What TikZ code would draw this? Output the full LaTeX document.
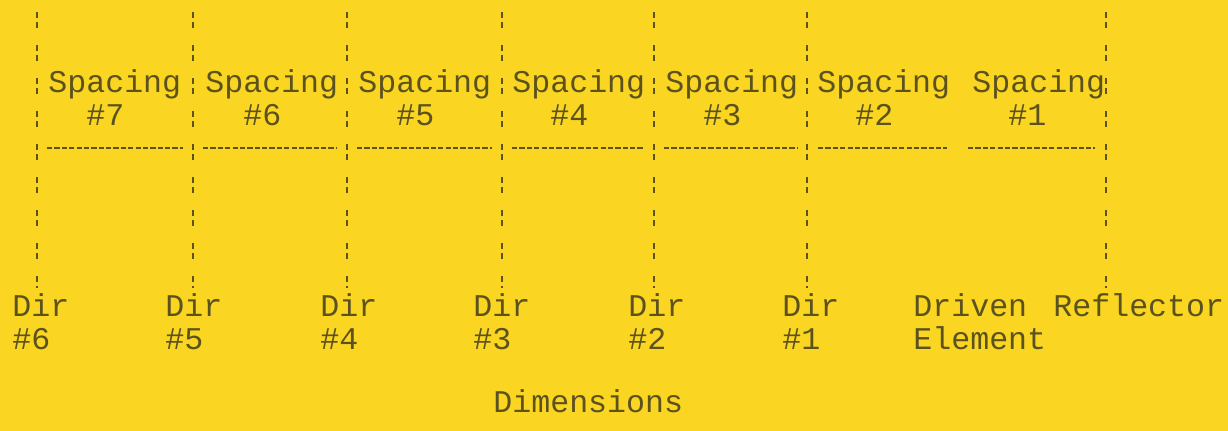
\documentclass[tikz,border=0pt]{standalone}
\usepackage{fontspec}
\setmonofont{Liberation Mono}
\definecolor{papel}{RGB}{250,214,34}
\definecolor{tinta}{RGB}{92,82,30}

\begin{document}
\begin{tikzpicture}[x=0.02cm, y=-0.02cm,
  rotulo/.style={anchor=base west, inner sep=0pt, text=tinta, font=\fontsize{18}{18}\selectfont\ttfamily},
  guia/.style={draw=tinta, line width=1.1pt, dash pattern=on 3.4pt off 2.3pt on 3.4pt off 9.7pt},
  cota/.style={draw=tinta, line width=0.6pt, dash pattern=on 3pt off 1.2pt}]
  \fill[papel] (0,0) rectangle (1228,431);
  \useasboundingbox (0,0) rectangle (1228,431);
  % guias verticales
  \coordinate (a1) at (37,12);   \coordinate (b1) at (37,288);
  \coordinate (a2) at (193,12);  \coordinate (b2) at (193,288);
  \coordinate (a3) at (347,12);  \coordinate (b3) at (347,288);
  \coordinate (a4) at (502,12);  \coordinate (b4) at (502,288);
  \coordinate (a5) at (654,12);  \coordinate (b5) at (654,288);
  \coordinate (a6) at (807,12);  \coordinate (b6) at (807,288);
  \coordinate (a7) at (1106,12); \coordinate (b7) at (1106,288);
  \draw[guia] (a1) -- (b1);
  \draw[guia] (a2) -- (b2);
  \draw[guia] (a3) -- (b3);
  \draw[guia] (a4) -- (b4);
  \draw[guia] (a5) -- (b5);
  \draw[guia] (a6) -- (b6);
  \draw[guia] (a7) -- (b7);
  % espaciados
  \node[rotulo] (s7) at (48,93) {Spacing};
  \node[rotulo] (n7) at (86,126) {\#7};
  \node[rotulo] (s6) at (205,93) {Spacing};
  \node[rotulo] (n6) at (243,126) {\#6};
  \node[rotulo] (s5) at (358,93) {Spacing};
  \node[rotulo] (n5) at (396,126) {\#5};
  \node[rotulo] (s4) at (512,93) {Spacing};
  \node[rotulo] (n4) at (550,126) {\#4};
  \node[rotulo] (s3) at (665,93) {Spacing};
  \node[rotulo] (n3) at (703,126) {\#3};
  \node[rotulo] (s2) at (817,93) {Spacing};
  \node[rotulo] (n2) at (855,126) {\#2};
  \node[rotulo] (s1) at (972,93) {Spacing};
  \node[rotulo] (n1) at (1008,126) {\#1};
  % cotas
  \coordinate (c1) at (47,148);   \coordinate (d1) at (183,148);
  \coordinate (c2) at (203,148);  \coordinate (d2) at (337,148);
  \coordinate (c3) at (357,148);  \coordinate (d3) at (492,148);
  \coordinate (c4) at (512,148);  \coordinate (d4) at (644,148);
  \coordinate (c5) at (664,148);  \coordinate (d5) at (797,148);
  \coordinate (c6) at (818,148);  \coordinate (d6) at (947,148);
  \coordinate (c7) at (968,148);  \coordinate (d7) at (1095,148);
  \draw[cota] (c1) -- (d1);
  \draw[cota] (c2) -- (d2);
  \draw[cota] (c3) -- (d3);
  \draw[cota] (c4) -- (d4);
  \draw[cota] (c5) -- (d5);
  \draw[cota] (c6) -- (d6);
  \draw[cota] (c7) -- (d7);
  % elementos
  \node[rotulo] (dir6) at (12,317) {Dir};
  \node[rotulo] (num6) at (12,350) {\#6};
  \node[rotulo] (dir5) at (165,317) {Dir};
  \node[rotulo] (num5) at (165,350) {\#5};
  \node[rotulo] (dir4) at (320,317) {Dir};
  \node[rotulo] (num4) at (320,350) {\#4};
  \node[rotulo] (dir3) at (473,317) {Dir};
  \node[rotulo] (num3) at (473,350) {\#3};
  \node[rotulo] (dir2) at (628,317) {Dir};
  \node[rotulo] (num2) at (628,350) {\#2};
  \node[rotulo] (dir1) at (782,317) {Dir};
  \node[rotulo] (num1) at (782,350) {\#1};
  \node[rotulo] (driv) at (913,317) {Driven};
  \node[rotulo] (elem) at (913,350) {Element};
  \node[rotulo] (refl) at (1053,317) {Reflector};
  \node[rotulo] (dims) at (493,413) {Dimensions};
\end{tikzpicture}
\end{document}
